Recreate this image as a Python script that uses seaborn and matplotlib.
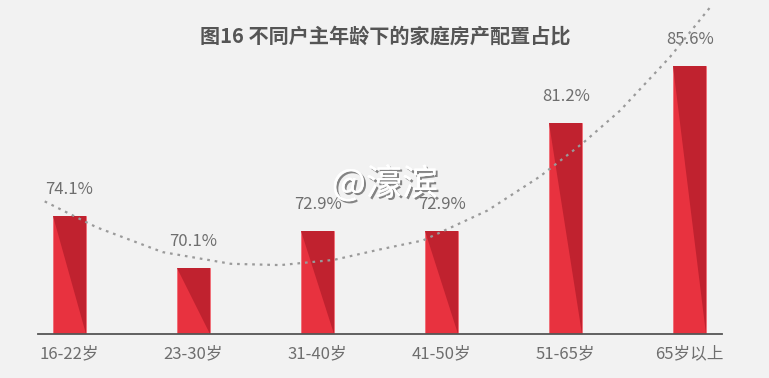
import numpy as np
import pandas as pd
import matplotlib
matplotlib.use('Agg')
import matplotlib.pyplot as plt
import matplotlib.patheffects as pe
from matplotlib.patches import Polygon
import seaborn as sns

# data
ages = ['16-22岁', '23-30岁', '31-40岁', '41-50岁', '51-65岁', '65岁以上']
shares = [74.1, 70.1, 72.9, 72.9, 81.2, 85.6]

# dotted trend curve (x in category units)
trend_x = [-0.2, 0.22, 0.75, 1.3, 1.7, 2.13, 2.5, 2.85, 3.37, 3.79, 4.14, 4.44, 4.84, 5.17]
trend_y = [75.2, 73.2, 71.3, 70.4, 70.3, 70.7, 71.5, 72.2, 74.5, 77.1, 79.7, 82.2, 86.3, 90.2]

title = '图16 不同户主年龄下的家庭房产配置占比'

bright = '#e8323f'
dark = '#c0222f'
bg = '#f2f2f2'

sns.set_style('white')
plt.rcParams['font.family'] = ['Noto Sans CJK SC', 'DejaVu Sans']

df = pd.DataFrame({'age': ages, 'share': shares})

fig = plt.figure(figsize=(7.69, 3.78), dpi=100, facecolor=bg)
ax = fig.add_axes([38 / 769, 44 / 378, 684 / 769, 334 / 378])
ax.set_facecolor(bg)

sns.barplot(data=df, x='age', y='share', color=bright, width=0.266,
            saturation=1, edgecolor='#f06a74', linewidth=0.6, ax=ax)

ymin = 65
ax.set_xlim(-0.254, 5.26)
ax.set_ylim(ymin, ymin + 334 / 13)

# darker diagonal half on each bar
for p in list(ax.patches):
    x0, w = p.get_x(), p.get_width()
    top = p.get_y() + p.get_height()
    tri = Polygon([(x0, top), (x0 + w, top), (x0 + w, ymin)],
                  closed=True, facecolor=dark, edgecolor='none', zorder=p.get_zorder() + 0.1)
    ax.add_patch(tri)

sns.lineplot(x=trend_x, y=trend_y, ax=ax, color='#9a9a9a', linestyle=(0, (1.2, 2.2)),
             linewidth=1.6, zorder=5, clip_on=False, sort=True)

for i, v in enumerate(shares):
    ax.annotate(f'{v}%', (i, v), xytext=(0, 13), textcoords='offset points',
                ha='center', va='bottom', fontsize=12, color='#6e6e6e', fontweight='light')

ax.set_xlabel('')
ax.set_ylabel('')
ax.set_yticks([])
ax.tick_params(axis='x', length=0, labelsize=12, labelcolor='#6e6e6e', pad=8)
for lab in ax.get_xticklabels():
    lab.set_fontweight('light')
for s in ['top', 'right', 'left']:
    ax.spines[s].set_visible(False)
ax.spines['bottom'].set_color('#555555')
ax.spines['bottom'].set_linewidth(1.3)

fig.text(385 / 769, 1 - 36 / 378, title, ha='center', va='center',
         fontsize=14.5, fontweight='bold', color='#555555')

# watermark
fig.text(385 / 769, 1 - 184 / 378, '@濠滨', ha='center', va='center', fontsize=26,
         color='white', zorder=10,
         path_effects=[pe.withSimplePatchShadow(offset=(1.5, -1.5), shadow_rgbFace='#555555', alpha=0.7),
                       pe.Normal()])

fig.savefig('out.png', dpi=100, facecolor=bg)
